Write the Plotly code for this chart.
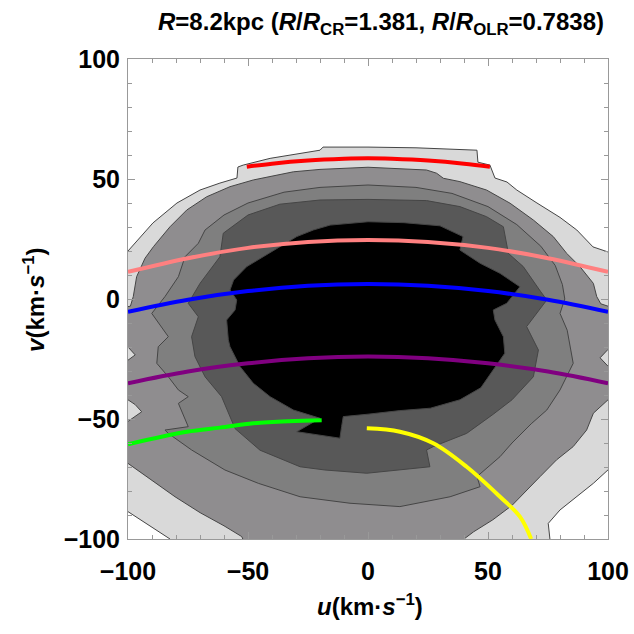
import plotly.graph_objects as go

# ---- contour band boundaries (u, v in km/s) ----
L1_u = [-105, -100, -89.6, -79.6, -70, -61.7, -54.6, -54.2, -52, -40.8, -20, -18.75, 0, 20, 45.4, 45.8, 50.8, 52.9, 57.9, 62, 70.4, 80, 87, 93.75, 100, 105, 105, 100, 93.9, 87, 80, 75.1, 75.8, 76, -84, -82.5, -100, -105]
L1_v = [19.6, 20, 31.7, 40, 45.4, 48.3, 50.4, 55, 55.8, 58.6, 62, 63.3, 63.3, 63, 62, 57, 55.8, 50.4, 48.75, 45.4, 40, 34, 28.75, 21.7, 19.6, 19, -71.2, -71.2, -76.8, -82.4, -87.9, -93.5, -100, -105, -105, -100, -88.6, -88]

L2_u = [-105, -99, -97.8, -96.4, -92.9, -89.4, -82.5, -75.5, -67.2, -57.5, -47.8, -31.1, -20, 0, 24.4, 28.6, 31.4, 38.3, 49.4, 59.2, 68.9, 77.2, 82.8, 88.3, 93.9, 95.3, 97, 100, 105, 105, 100, 96.7, 100, 105, 105, 100, 93.9, 91.1, 85.5, 78.6, 71.7, 64.7, 60, 52, 44, 40, 38, -50, -52.6, -60, -70, -80.4, -90, -100, -105, -105, -100, -94.3, -97, -100, -105, -105, -100, -97, -100, -105]
L2_v = [-4, -3, 1, 9.3, 17, 21.8, 30.1, 37.1, 42.6, 46.8, 49.6, 53, 54, 54.9, 53.75, 52.4, 50.3, 48.9, 45.4, 39.9, 32.9, 26, 19, 13.5, 6.5, 1, -2, -3, -3, -20, -21, -24.5, -28, -28, -41, -42, -47.6, -54.6, -61.5, -67, -74, -81, -86, -92, -97, -100, -105, -105, -99, -94.5, -89, -82.4, -75.5, -68.5, -68, -52, -51, -47, -44, -42, -42, -26, -25.5, -23.3, -20, -20]

L3_u = [-67.9, -60, -50, -35, -20, 0, 20, 35, 50, 62, 72, 78, 81, 82, 80, 83, 85.5, 80, 74.5, 68, 60, 55, 45.4, 46.7, 34.2, 13.3, -7.5, -28.3, -45.7, -59.6, -73.5, -83.2, -84.6, -74.9, -79, -74.9, -79, -83.2, -88, -87.4, -83.2, -90.1, -84.6, -79, -76.25, -70.7]
L3_v = [28.75, 35, 40, 44.5, 46.5, 47.5, 46.5, 44, 38.5, 31, 22, 14, 6, 0, -6, -13, -26.8, -37.9, -46.25, -52, -60, -65.7, -74, -78.2, -82.4, -86.5, -85.1, -82.4, -76.8, -71.25, -62.9, -56, -54.6, -53.2, -43.5, -40.7, -37.9, -32.4, -26.8, -19.9, -15.7, -6, 1, 9.3, 17.6, 23.2]

L4_u = [-20, 0, 24.4, 38.3, 49.4, 56.4, 58.5, 64.7, 72, 74.5, 66.1, 71, 68.9, 60, 52.2, 41.1, 27.2, 24.4, 25.8, -0.5, -17.9, -28.3, -45, -55.4, -61, -67.9, -72.1, -73.5, -70.7, -74.9, -70, -61.7, -60.3, -50, -36.7]
L4_v = [41.25, 41.5, 41, 38.5, 34.3, 30.1, 19, 13.5, 3, -0.4, -11.5, -21.25, -32.4, -42, -48, -56, -61.5, -62.9, -69.9, -72.6, -71.25, -69.9, -63, -54, -40.7, -32.4, -24, -15.7, -7.4, -1.8, 6.5, 17.6, 27.4, 35, 39.5]

L5_u = [0, -15.8, -22.8, -29.7, -36.7, -43.6, -50.5, -56, -57.5, -54.7, -55.4, -58.9, -58.2, -57.5, -53.3, -47.8, -40.8, -31.1, -20, -29.7, -11.7, -11, -10.3, 0, 13.3, 26, 38.3, 47, 52, 57, 56.4, 52.9, 52.2, 57.8, 63.3, 55, 46.7, 38.3, 39.6, 30, 15]
L5_v = [32.2, 30.8, 28.75, 26, 21.8, 17.6, 13.5, 7.9, 3.75, -0.4, -4.6, -8.75, -17, -19.9, -28.2, -35.1, -40.7, -46.25, -49.7, -55.3, -58, -53.2, -49, -48, -46.5, -45.5, -42, -37, -30, -22.6, -15.7, -8.75, -4.6, -1.8, 5.1, 10.7, 14.9, 20.4, 26, 30.5, 31.8]

band_colors = ["#d9d9d9", "#8f8d8f", "#7f7f7f", "#585858", "#000000"]

# ---- overlaid curves ----
red_u = [-50.5, -40, -25, -10, 0, 10, 25, 40, 50.8]
red_v = [55.1, 56.4, 57.7, 58.4, 58.6, 58.4, 57.7, 56.4, 55.1]
pink_u = [-100, -75, -50, -25, 0, 25, 50, 75, 100]
pink_v = [11.3, 17.0, 21.3, 23.8, 24.6, 23.8, 21.3, 17.0, 11.3]
blue_u = [-100, -75, -50, -25, 0, 25, 50, 75, 100]
blue_v = [-5.3, -0.3, 3.3, 5.5, 6.2, 5.5, 3.3, -0.3, -5.3]
purple_u = [-100, -75, -50, -25, 0, 25, 50, 75, 100]
purple_v = [-35.1, -30.2, -26.8, -24.7, -24.0, -24.7, -26.8, -30.2, -35.1]
green_u = [-100, -75.5, -61.7, -47.8, -33, -19.3]
green_v = [-60.5, -55.3, -53.6, -51.8, -50.9, -50.5]
yellow_u = [-0.5, 13.3, 27.2, 41.1, 55, 63.3, 68]
yellow_v = [-53.9, -55.3, -60.1, -69.9, -82.4, -90.7, -100]

tick_vals = [-100, -50, 0, 50, 100]
tick_text = ["\u2212100", "\u221250", "0", "50", "100"]

fig = go.Figure()
for (bu, bv), col in zip([(L1_u, L1_v), (L2_u, L2_v), (L3_u, L3_v), (L4_u, L4_v), (L5_u, L5_v)], band_colors):
    fig.add_trace(go.Scatter(x=bu + bu[:1], y=bv + bv[:1], mode="lines", fill="toself",
                             fillcolor=col, line=dict(color="#454545", width=1),
                             hoverinfo="skip", showlegend=False))

for cu, cv, col in [(red_u, red_v, "#ff0000"), (pink_u, pink_v, "#ff8080"), (blue_u, blue_v, "#0000ff"),
                    (purple_u, purple_v, "#800080"), (green_u, green_v, "#00ff00"), (yellow_u, yellow_v, "#ffff00")]:
    fig.add_trace(go.Scatter(x=cu, y=cv, mode="lines", line=dict(color=col, width=4, shape="spline"),
                             hoverinfo="skip", showlegend=False))

axis_common = dict(range=[-100, 100], showgrid=False, zeroline=False, showline=True, linecolor="#999999",
                   linewidth=1, mirror="ticks", ticks="inside", ticklen=7, tickcolor="#999999",
                   tickvals=tick_vals, ticktext=tick_text, automargin=False,
                   tickfont=dict(family="Liberation Sans", size=25, color="black", weight="bold"),
                   minor=dict(dtick=10, ticks="inside", ticklen=4, tickcolor="#999999"))
fig.update_xaxes(**axis_common, ticklabelstandoff=10)
fig.update_yaxes(**axis_common, ticklabelstandoff=2)

fig.update_layout(width=634, height=634, margin=dict(l=128, r=26, t=59, b=95, autoexpand=False),
                  plot_bgcolor="white", paper_bgcolor="white", showlegend=False)

fig.add_annotation(text="<b><i>R</i>=8.2kpc (<i>R</i>/<i>R</i><sub>CR</sub>=1.381, <i>R</i>/<i>R</i><sub>OLR</sub>=0.7838)</b>",
                   xref="paper", yref="paper", x=0.527, y=1.073, xanchor="center", yanchor="middle",
                   showarrow=False, font=dict(family="Liberation Sans", size=24, color="black"))
fig.add_annotation(text="<b><i>u</i>(km·<i>s</i><sup>\u22121</sup>)</b>", xref="paper", yref="paper",
                   x=0.504, y=-0.138, xanchor="center", yanchor="middle", showarrow=False,
                   font=dict(family="Liberation Sans", size=24, color="black"))
fig.add_annotation(text="<b><i>v</i>(km·<i>s</i><sup>\u22121</sup>)</b>", xref="paper", yref="paper",
                   x=-0.196, y=0.5, xanchor="center", yanchor="middle", textangle=-90, showarrow=False,
                   font=dict(family="Liberation Sans", size=24, color="black"))

fig.write_html("out.html")
